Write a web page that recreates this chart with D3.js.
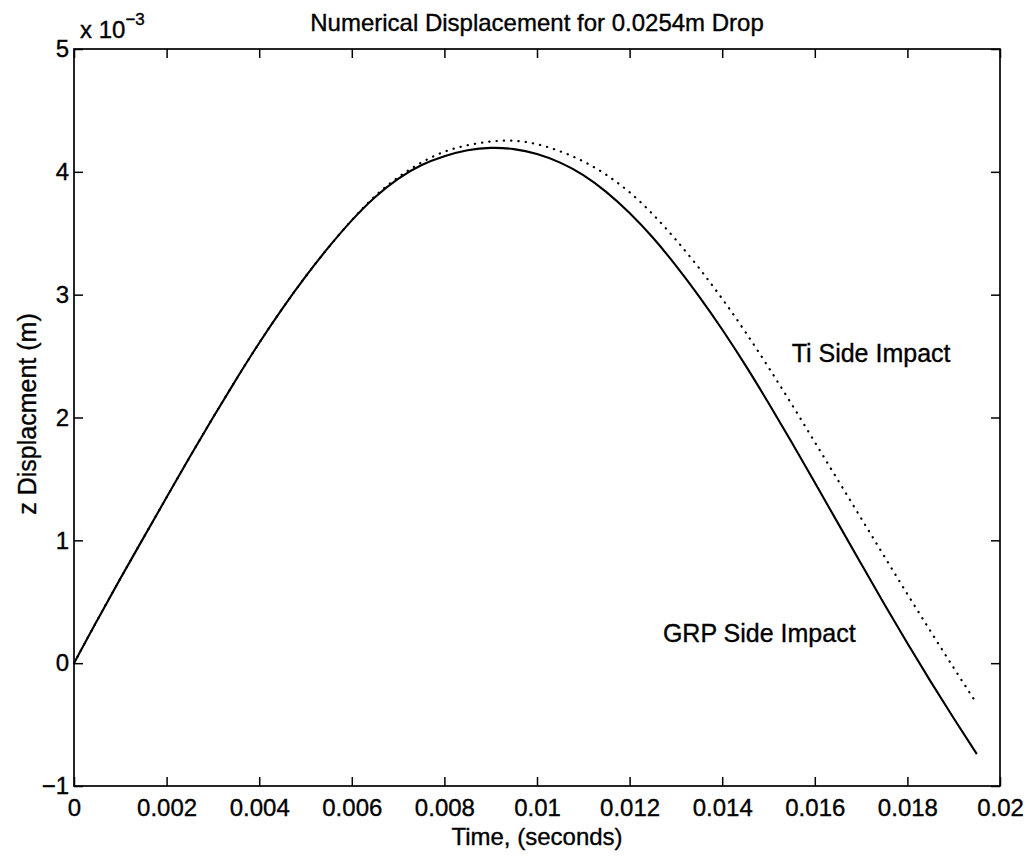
<!DOCTYPE html>
<html>
<head>
<meta charset="utf-8">
<script src="https://cdn.jsdelivr.net/npm/d3@7"></script>
<style>
  html, body { margin: 0; padding: 0; background: #fff; }
  svg { display: block; font-family: "Liberation Sans", Arial, Helvetica, sans-serif; }
</style>
</head>
<body>
<svg id="chart" width="1029" height="857"></svg>
<script>
// ---- data (time in seconds, displacement in units of 1e-3 m) ----
const timeSec = [0, 0.0005, 0.001, 0.0015, 0.002, 0.0025, 0.003, 0.0035, 0.004, 0.0045,
  0.005, 0.0055, 0.006, 0.0065, 0.007, 0.0075, 0.008, 0.0085, 0.009, 0.0095,
  0.010, 0.0105, 0.011, 0.0115, 0.012, 0.0125, 0.013, 0.0135, 0.014, 0.0145,
  0.015, 0.0155, 0.016, 0.0165, 0.017, 0.0175, 0.018, 0.0185, 0.019, 0.0195];

const grpSide = [0, 0.35, 0.69, 1.02, 1.35, 1.68, 2.00, 2.31, 2.61, 2.89,
  3.15, 3.39, 3.61, 3.80, 3.95, 4.06, 4.13, 4.18, 4.20, 4.19,
  4.15, 4.08, 3.98, 3.84, 3.67, 3.47, 3.24, 2.99, 2.72, 2.43,
  2.12, 1.80, 1.47, 1.14, 0.81, 0.48, 0.16, -0.15, -0.45, -0.74];

const tiSide = [0, 0.35, 0.69, 1.02, 1.35, 1.68, 2.00, 2.31, 2.61, 2.89,
  3.15, 3.39, 3.61, 3.81, 3.96, 4.08, 4.17, 4.22, 4.25, 4.26,
  4.23, 4.17, 4.09, 3.98, 3.84, 3.66, 3.45, 3.22, 2.97, 2.70,
  2.41, 2.11, 1.80, 1.49, 1.18, 0.87, 0.56, 0.26, -0.04, -0.33];

const xTicks = [0, 0.002, 0.004, 0.006, 0.008, 0.01, 0.012, 0.014, 0.016, 0.018, 0.02];
const xTickLabels = ["0", "0.002", "0.004", "0.006", "0.008", "0.01", "0.012", "0.014", "0.016", "0.018", "0.02"];
const yTicks = [-1, 0, 1, 2, 3, 4, 5];
const yTickLabels = ["\u22121", "0", "1", "2", "3", "4", "5"];

const titleText = "Numerical Displacement for 0.0254m Drop";
const xLabelText = "Time, (seconds)";
const yLabelText = "z Displacment (m)";
const annotations = [
  { text: "Ti Side Impact", t: 0.0155, z: 2.45 },
  { text: "GRP Side Impact", t: 0.01272, z: 0.17 }
];

// ---- layout ----
const svg = d3.select("#chart");
const L = 74, R = 1000, T = 49, B = 786;
const FS = 24;

const x = d3.scaleLinear().domain([0, 0.02]).range([L, R]);
const y = d3.scaleLinear().domain([-1, 5]).range([B, T]);

function txt(sel, size) {
  return sel.style("font-size", size + "px").attr("fill", "#000")
    .attr("stroke", "#000").attr("stroke-width", 0.35)
    .style("font-family", "Liberation Sans, Arial, sans-serif");
}

// axes (ticks inward, mirrored)
const axB = d3.axisBottom(x).tickValues(xTicks).tickSize(-9).tickPadding(13)
  .tickFormat((d, i) => xTickLabels[i]);
const axT = d3.axisTop(x).tickValues(xTicks).tickSize(-9).tickFormat("");
const axL = d3.axisLeft(y).tickValues(yTicks).tickSize(-9).tickPadding(5)
  .tickFormat((d, i) => yTickLabels[i]);
const axR = d3.axisRight(y).tickValues(yTicks).tickSize(-9).tickFormat("");

function style(g) {
  g.select(".domain").remove();
  g.selectAll(".tick line").attr("stroke", "#000").attr("stroke-width", 1.5);
  g.selectAll(".tick text").call(txt, FS);
}
svg.append("g").attr("transform", `translate(0,${B})`).call(axB).call(style);
svg.append("g").attr("transform", `translate(0,${T})`).call(axT).call(style);
svg.append("g").attr("transform", `translate(${L},0)`).call(axL).call(style);
svg.append("g").attr("transform", `translate(${R},0)`).call(axR).call(style);

// frame
svg.append("rect").attr("x", L).attr("y", T).attr("width", R - L).attr("height", B - T)
  .attr("fill", "none").attr("stroke", "#000").attr("stroke-width", 1.7);

// lines
const line = d3.line().x((d, i) => x(timeSec[i])).y(d => y(d)).curve(d3.curveBasis);

svg.append("path").datum(tiSide).attr("d", line)
  .attr("fill", "none").attr("stroke", "#000").attr("stroke-width", 2.2)
  .attr("stroke-linecap", "round").attr("stroke-dasharray", "0.3,7");

svg.append("path").datum(grpSide).attr("d", line)
  .attr("fill", "none").attr("stroke", "#000").attr("stroke-width", 2.1);

// title
svg.append("text").attr("x", (L + R) / 2).attr("y", 31).attr("text-anchor", "middle")
  .call(txt, FS).text(titleText);

// exponent label
const ex = svg.append("text").attr("x", 80).attr("y", 38).call(txt, FS);
ex.append("tspan").text("x 10");
ex.append("tspan").attr("dy", -13).style("font-size", "17px").text("\u22123");

// axis labels
svg.append("text").attr("x", (L + R) / 2).attr("y", 845).attr("text-anchor", "middle")
  .call(txt, FS).text(xLabelText);

svg.append("text").attr("transform", `translate(36,414) rotate(-90)`).attr("text-anchor", "middle")
  .call(txt, 25).text(yLabelText);

// annotations
svg.selectAll("text.ann").data(annotations).enter().append("text").attr("class", "ann")
  .attr("x", d => x(d.t)).attr("y", d => y(d.z))
  .call(txt, 25).text(d => d.text);
</script>
</body>
</html>
